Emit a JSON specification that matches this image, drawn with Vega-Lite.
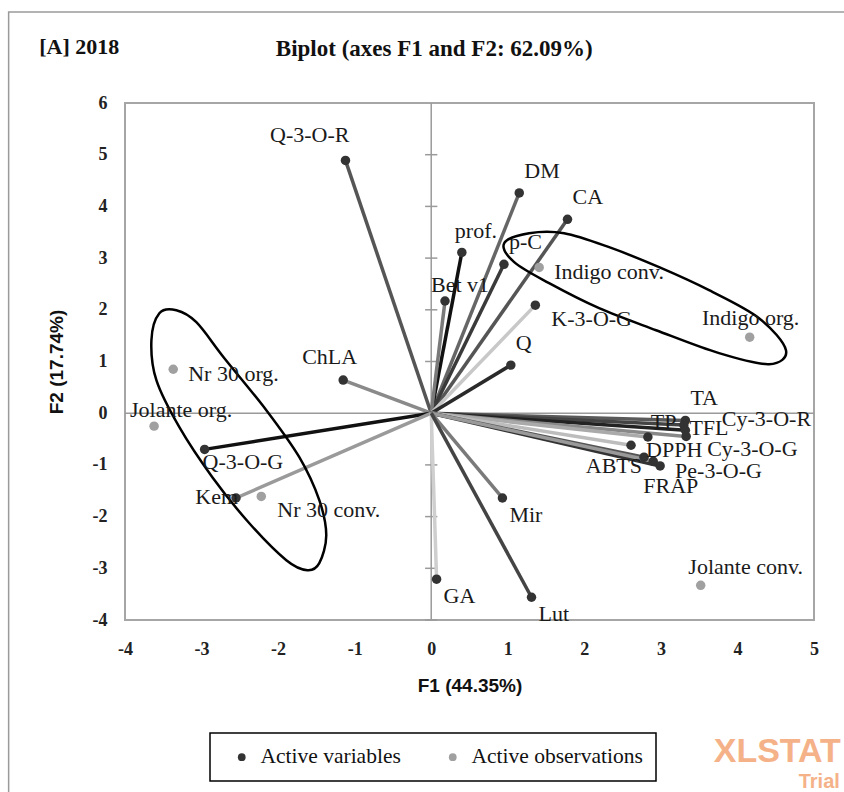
{
  "$schema": "https://vega.github.io/schema/vega-lite/v6.json",
  "width": 689,
  "height": 517,
  "autosize": {"type": "none"},
  "padding": {"left": 125, "top": 103, "right": 30, "bottom": 172},
  "background": "white",
  "config": {
    "view": {"stroke": "#a6a6a6", "strokeWidth": 2},
    "text": {"font": "Liberation Serif", "fontSize": 22, "baseline": "middle", "color": "#1a1a1a"},
    "axis": {
      "grid": false,
      "ticks": false,
      "domain": false,
      "labelFlush": false,
      "labelOverlap": false,
      "labelExpr": "'' + datum.value",
      "labelFont": "Liberation Serif",
      "labelFontWeight": "bold",
      "labelFontSize": 18,
      "labelColor": "#222222",
      "titleFont": "Liberation Sans",
      "titleFontWeight": "bold",
      "titleFontSize": 19,
      "titleColor": "#111111"
    },
    "legend": {
      "orient": "none",
      "legendX": 85,
      "legendY": 630,
      "direction": "horizontal",
      "title": null,
      "labelFont": "Liberation Serif",
      "labelFontSize": 21.5,
      "labelColor": "#111111",
      "labelLimit": 400,
      "symbolType": "circle",
      "symbolSize": 60,
      "symbolStrokeWidth": 0,
      "symbolOffset": 8,
      "labelOffset": 8,
      "columnPadding": 33,
      "padding": 13,
      "strokeColor": "#000000",
      "strokeWidth": 1.5
    }
  },
  "data": {
    "values": [
      {"name": "Q-3-O-R", "type": "Active variables", "x": -1.12, "y": 4.89},
      {"name": "DM", "type": "Active variables", "x": 1.15, "y": 4.26},
      {"name": "CA", "type": "Active variables", "x": 1.78, "y": 3.75},
      {"name": "prof.", "type": "Active variables", "x": 0.40, "y": 3.11},
      {"name": "p-C", "type": "Active variables", "x": 0.95, "y": 2.88},
      {"name": "Bet v1", "type": "Active variables", "x": 0.18, "y": 2.17},
      {"name": "K-3-O-G", "type": "Active variables", "x": 1.36, "y": 2.09},
      {"name": "Q", "type": "Active variables", "x": 1.04, "y": 0.93},
      {"name": "ChLA", "type": "Active variables", "x": -1.15, "y": 0.64},
      {"name": "Q-3-O-G", "type": "Active variables", "x": -2.96, "y": -0.70},
      {"name": "Kem", "type": "Active variables", "x": -2.55, "y": -1.64},
      {"name": "TA", "type": "Active variables", "x": 3.32, "y": -0.14},
      {"name": "Cy-3-O-R", "type": "Active variables", "x": 3.30, "y": -0.23},
      {"name": "TFL", "type": "Active variables", "x": 3.32, "y": -0.33},
      {"name": "Cy-3-O-G", "type": "Active variables", "x": 3.33, "y": -0.45},
      {"name": "TP", "type": "Active variables", "x": 2.83, "y": -0.46},
      {"name": "DPPH", "type": "Active variables", "x": 2.61, "y": -0.62},
      {"name": "ABTS", "type": "Active variables", "x": 2.78, "y": -0.85},
      {"name": "Pe-3-O-G", "type": "Active variables", "x": 2.99, "y": -1.02},
      {"name": "FRAP", "type": "Active variables", "x": 2.90, "y": -0.93},
      {"name": "Mir", "type": "Active variables", "x": 0.93, "y": -1.64},
      {"name": "GA", "type": "Active variables", "x": 0.07, "y": -3.21},
      {"name": "Lut", "type": "Active variables", "x": 1.31, "y": -3.56},
      {"name": "Indigo conv.", "type": "Active observations", "x": 1.41, "y": 2.82},
      {"name": "Indigo org.", "type": "Active observations", "x": 4.16, "y": 1.47},
      {"name": "Nr 30 org.", "type": "Active observations", "x": -3.37, "y": 0.85},
      {"name": "Jolante org.", "type": "Active observations", "x": -3.62, "y": -0.25},
      {"name": "Nr 30 conv.", "type": "Active observations", "x": -2.22, "y": -1.61},
      {"name": "Jolante conv.", "type": "Active observations", "x": 3.52, "y": -3.33}
    ]
  },
  "layer": [
    {
      "mark": {"type": "circle", "size": 1, "opacity": 0},
      "encoding": {
        "x": {"field": "x", "type": "quantitative", "scale": {"domain": [-4, 5], "nice": false, "zero": false}, "axis": {"values": [-4, -3, -2, -1, 0, 1, 2, 3, 4, 5], "title": "F1 (44.35%)", "labelPadding": 20, "titlePadding": 18}},
        "y": {"field": "y", "type": "quantitative", "scale": {"domain": [-4, 6], "nice": false, "zero": false}, "axis": {"values": [-4, -3, -2, -1, 0, 1, 2, 3, 4, 5, 6], "title": "F2 (17.74%)", "labelPadding": 18, "titlePadding": 26}}
      }
    },
    {
      "data": {"values": [{}]},
      "mark": {"type": "rect", "fill": null, "fillOpacity": 0, "stroke": "#9a9a9a", "strokeWidth": 1.5},
      "encoding": {
        "x": {"datum": -5.52, "type": "quantitative"},
        "y": {"datum": 7.76, "type": "quantitative"},
        "x2": {"datum": 5.8},
        "y2": {"datum": -7.8}
      }
    },
    {
      "data": {"values": [{}]},
      "mark": {"type": "rule", "color": "#9a9a9a", "strokeWidth": 1.5},
      "encoding": {
        "x": {"datum": -4, "type": "quantitative"},
        "x2": {"datum": 5},
        "y": {"datum": 0, "type": "quantitative"}
      }
    },
    {
      "data": {"values": [{}]},
      "mark": {"type": "rule", "color": "#9a9a9a", "strokeWidth": 1.5},
      "encoding": {
        "y": {"datum": -4, "type": "quantitative"},
        "y2": {"datum": 6},
        "x": {"datum": 0, "type": "quantitative"}
      }
    },
    {
      "data": {"values": [{"v": -4}, {"v": -3}, {"v": -2}, {"v": -1}, {"v": 1}, {"v": 2}, {"v": 3}, {"v": 4}, {"v": 5}]},
      "mark": {"type": "rule", "color": "#9a9a9a", "strokeWidth": 1.5},
      "encoding": {
        "y": {"field": "v", "type": "quantitative"},
        "x": {"datum": -0.08, "type": "quantitative"},
        "x2": {"datum": 0.08}
      }
    },
    {
      "transform": [{"filter": "datum.type === 'Active variables'"}],
      "mark": {"type": "rule", "strokeWidth": 3.5},
      "encoding": {
        "x": {"field": "x", "type": "quantitative"},
        "y": {"field": "y", "type": "quantitative"},
        "x2": {"datum": 0},
        "y2": {"datum": 0},
        "stroke": {
          "field": "name",
          "type": "nominal",
          "legend": null,
          "scale": {
            "domain": ["Q-3-O-R", "DM", "CA", "prof.", "p-C", "Bet v1", "K-3-O-G", "Q", "ChLA", "Q-3-O-G", "Kem", "TA", "Cy-3-O-R", "TFL", "Cy-3-O-G", "TP", "DPPH", "ABTS", "Pe-3-O-G", "FRAP", "Mir", "GA", "Lut"],
            "range": ["#555555", "#666666", "#555555", "#111111", "#3a3a3a", "#7a7a7a", "#c8c8c8", "#2a2a2a", "#8a8a8a", "#111111", "#9a9a9a", "#5a5a5a", "#444444", "#222222", "#888888", "#aaaaaa", "#bdbdbd", "#555555", "#333333", "#999999", "#7a7a7a", "#cfcfcf", "#444444"]
          }
        }
      }
    },
    {
      "data": {
        "values": [
          {"e": "right", "i": 1, "x": 0.953, "y": 3.288},
          {"e": "right", "i": 2, "x": 1.279, "y": 3.482},
          {"e": "right", "i": 3, "x": 1.736, "y": 3.482},
          {"e": "right", "i": 4, "x": 2.324, "y": 3.211},
          {"e": "right", "i": 5, "x": 2.977, "y": 2.824},
          {"e": "right", "i": 6, "x": 3.629, "y": 2.379},
          {"e": "right", "i": 7, "x": 4.282, "y": 1.838},
          {"e": "right", "i": 8, "x": 4.634, "y": 1.219},
          {"e": "right", "i": 9, "x": 4.413, "y": 0.948},
          {"e": "right", "i": 10, "x": 3.760, "y": 1.161},
          {"e": "right", "i": 11, "x": 2.937, "y": 1.605},
          {"e": "right", "i": 12, "x": 2.193, "y": 2.031},
          {"e": "right", "i": 13, "x": 1.540, "y": 2.515},
          {"e": "right", "i": 14, "x": 1.084, "y": 2.921},
          {"e": "left", "i": 1, "x": -3.551, "y": 1.934},
          {"e": "left", "i": 2, "x": -3.329, "y": 1.992},
          {"e": "left", "i": 3, "x": -3.068, "y": 1.760},
          {"e": "left", "i": 4, "x": -2.702, "y": 1.064},
          {"e": "left", "i": 5, "x": -2.154, "y": 0.058},
          {"e": "left", "i": 6, "x": -1.723, "y": -0.851},
          {"e": "left", "i": 7, "x": -1.462, "y": -1.683},
          {"e": "left", "i": 8, "x": -1.371, "y": -2.360},
          {"e": "left", "i": 9, "x": -1.462, "y": -2.901},
          {"e": "left", "i": 10, "x": -1.619, "y": -3.037},
          {"e": "left", "i": 11, "x": -1.893, "y": -2.843},
          {"e": "left", "i": 12, "x": -2.376, "y": -2.128},
          {"e": "left", "i": 13, "x": -2.859, "y": -1.238},
          {"e": "left", "i": 14, "x": -3.290, "y": -0.271},
          {"e": "left", "i": 15, "x": -3.590, "y": 0.638},
          {"e": "left", "i": 16, "x": -3.655, "y": 1.412}
        ]
      },
      "mark": {"type": "line", "interpolate": "cardinal-closed", "color": "#000000", "strokeWidth": 2.5},
      "encoding": {
        "x": {"field": "x", "type": "quantitative"},
        "y": {"field": "y", "type": "quantitative"},
        "detail": {"field": "e", "type": "nominal"},
        "order": {"field": "i", "type": "quantitative"}
      }
    },
    {
      "mark": {"type": "circle", "size": 90, "opacity": 1},
      "encoding": {
        "x": {"field": "x", "type": "quantitative"},
        "y": {"field": "y", "type": "quantitative"},
        "fill": {
          "field": "type",
          "type": "nominal",
          "scale": {"domain": ["Active variables", "Active observations"], "range": ["#333333", "#a0a0a0"]}
        }
      }
    },
    {
      "transform": [{"filter": {"field": "name", "oneOf": ["DM", "CA", "p-C", "Q", "TA"]}}],
      "mark": {"type": "text", "align": "left", "dx": 5, "dy": -22},
      "encoding": {"x": {"field": "x", "type": "quantitative"}, "y": {"field": "y", "type": "quantitative"}, "text": {"field": "name"}}
    },
    {
      "transform": [{"filter": {"field": "name", "oneOf": ["prof."]}}],
      "mark": {"type": "text", "align": "left", "dx": -7, "dy": -21},
      "encoding": {"x": {"field": "x", "type": "quantitative"}, "y": {"field": "y", "type": "quantitative"}, "text": {"field": "name"}}
    },
    {
      "transform": [{"filter": {"field": "name", "oneOf": ["Bet v1"]}}],
      "mark": {"type": "text", "align": "left", "dx": -14, "dy": -16},
      "encoding": {"x": {"field": "x", "type": "quantitative"}, "y": {"field": "y", "type": "quantitative"}, "text": {"field": "name"}}
    },
    {
      "transform": [{"filter": {"field": "name", "oneOf": ["Mir", "GA", "Lut"]}}],
      "mark": {"type": "text", "align": "left", "dx": 7, "dy": 17},
      "encoding": {"x": {"field": "x", "type": "quantitative"}, "y": {"field": "y", "type": "quantitative"}, "text": {"field": "name"}}
    },
    {
      "transform": [{"filter": {"field": "name", "oneOf": ["DPPH", "Pe-3-O-G", "Indigo conv.", "Nr 30 org."]}}],
      "mark": {"type": "text", "align": "left", "dx": 15, "dy": 5},
      "encoding": {"x": {"field": "x", "type": "quantitative"}, "y": {"field": "y", "type": "quantitative"}, "text": {"field": "name"}}
    },
    {
      "transform": [{"filter": {"field": "name", "oneOf": ["Nr 30 conv.", "K-3-O-G"]}}],
      "mark": {"type": "text", "align": "left", "dx": 16, "dy": 14},
      "encoding": {"x": {"field": "x", "type": "quantitative"}, "y": {"field": "y", "type": "quantitative"}, "text": {"field": "name"}}
    },
    {
      "transform": [{"filter": {"field": "name", "oneOf": ["Cy-3-O-G"]}}],
      "mark": {"type": "text", "align": "left", "dx": 21, "dy": 13},
      "encoding": {"x": {"field": "x", "type": "quantitative"}, "y": {"field": "y", "type": "quantitative"}, "text": {"field": "name"}}
    },
    {
      "transform": [{"filter": {"field": "name", "oneOf": ["Q-3-O-R"]}}],
      "mark": {"type": "text", "align": "right", "dx": 4, "dy": -25},
      "encoding": {"x": {"field": "x", "type": "quantitative"}, "y": {"field": "y", "type": "quantitative"}, "text": {"field": "name"}}
    },
    {
      "transform": [{"filter": {"field": "name", "oneOf": ["ChLA"]}}],
      "mark": {"type": "text", "align": "right", "dx": 14, "dy": -23},
      "encoding": {"x": {"field": "x", "type": "quantitative"}, "y": {"field": "y", "type": "quantitative"}, "text": {"field": "name"}}
    },
    {
      "transform": [{"filter": {"field": "name", "oneOf": ["Kem"]}}],
      "mark": {"type": "text", "align": "right", "dx": 2, "dy": -1},
      "encoding": {"x": {"field": "x", "type": "quantitative"}, "y": {"field": "y", "type": "quantitative"}, "text": {"field": "name"}}
    },
    {
      "transform": [{"filter": {"field": "name", "oneOf": ["ABTS"]}}],
      "mark": {"type": "text", "align": "right", "dx": -2, "dy": 9},
      "encoding": {"x": {"field": "x", "type": "quantitative"}, "y": {"field": "y", "type": "quantitative"}, "text": {"field": "name"}}
    },
    {
      "transform": [{"filter": {"field": "name", "oneOf": ["Q-3-O-G"]}}],
      "mark": {"type": "text", "align": "left", "dx": -2, "dy": 13},
      "encoding": {"x": {"field": "x", "type": "quantitative"}, "y": {"field": "y", "type": "quantitative"}, "text": {"field": "name"}}
    },
    {
      "transform": [{"filter": {"field": "name", "oneOf": ["TP"]}}],
      "mark": {"type": "text", "align": "left", "dx": 3, "dy": -15},
      "encoding": {"x": {"field": "x", "type": "quantitative"}, "y": {"field": "y", "type": "quantitative"}, "text": {"field": "name"}}
    },
    {
      "transform": [{"filter": {"field": "name", "oneOf": ["TFL"]}}],
      "mark": {"type": "text", "align": "left", "dx": 4, "dy": -2},
      "encoding": {"x": {"field": "x", "type": "quantitative"}, "y": {"field": "y", "type": "quantitative"}, "text": {"field": "name"}}
    },
    {
      "transform": [{"filter": {"field": "name", "oneOf": ["Cy-3-O-R"]}}],
      "mark": {"type": "text", "align": "left", "dx": 38, "dy": -6},
      "encoding": {"x": {"field": "x", "type": "quantitative"}, "y": {"field": "y", "type": "quantitative"}, "text": {"field": "name"}}
    },
    {
      "transform": [{"filter": {"field": "name", "oneOf": ["FRAP"]}}],
      "mark": {"type": "text", "align": "left", "dx": -10, "dy": 25},
      "encoding": {"x": {"field": "x", "type": "quantitative"}, "y": {"field": "y", "type": "quantitative"}, "text": {"field": "name"}}
    },
    {
      "transform": [{"filter": {"field": "name", "oneOf": ["Indigo org."]}}],
      "mark": {"type": "text", "align": "center", "dx": 1, "dy": -19},
      "encoding": {"x": {"field": "x", "type": "quantitative"}, "y": {"field": "y", "type": "quantitative"}, "text": {"field": "name"}}
    },
    {
      "transform": [{"filter": {"field": "name", "oneOf": ["Jolante org."]}}],
      "mark": {"type": "text", "align": "center", "dx": 27, "dy": -16},
      "encoding": {"x": {"field": "x", "type": "quantitative"}, "y": {"field": "y", "type": "quantitative"}, "text": {"field": "name"}}
    },
    {
      "transform": [{"filter": {"field": "name", "oneOf": ["Jolante conv."]}}],
      "mark": {"type": "text", "align": "center", "dx": 45, "dy": -18},
      "encoding": {"x": {"field": "x", "type": "quantitative"}, "y": {"field": "y", "type": "quantitative"}, "text": {"field": "name"}}
    },
    {
      "data": {"values": [{"label": "[A] 2018"}]},
      "mark": {"type": "text", "align": "left", "font": "Liberation Serif", "fontSize": 22, "fontWeight": "bold", "color": "#111111"},
      "encoding": {
        "x": {"datum": -5.12, "type": "quantitative"},
        "y": {"datum": 7.08, "type": "quantitative"},
        "text": {"field": "label"}
      }
    },
    {
      "data": {"values": [{"label": "Biplot (axes F1 and F2: 62.09%)"}]},
      "mark": {"type": "text", "align": "center", "font": "Liberation Serif", "fontSize": 23, "fontWeight": "bold", "color": "#111111"},
      "encoding": {
        "x": {"datum": 0.04, "type": "quantitative"},
        "y": {"datum": 7.04, "type": "quantitative"},
        "text": {"field": "label"}
      }
    },
    {
      "data": {"values": [{"label": "XLSTAT", "px": 3.69, "py": -6.56}, {"label": "Trial", "px": 4.8, "py": -7.14}]},
      "transform": [{"filter": "datum.label === 'XLSTAT'"}],
      "mark": {"type": "text", "align": "left", "font": "Liberation Sans", "fontSize": 34, "fontWeight": "bold", "color": "#f4a574", "opacity": 0.85},
      "encoding": {
        "x": {"field": "px", "type": "quantitative"},
        "y": {"field": "py", "type": "quantitative"},
        "text": {"field": "label"}
      }
    },
    {
      "data": {"values": [{"label": "XLSTAT", "px": 3.69, "py": -6.56}, {"label": "Trial", "px": 4.8, "py": -7.14}]},
      "transform": [{"filter": "datum.label === 'Trial'"}],
      "mark": {"type": "text", "align": "left", "font": "Liberation Sans", "fontSize": 20, "fontWeight": "bold", "color": "#f4a574", "opacity": 0.85},
      "encoding": {
        "x": {"field": "px", "type": "quantitative"},
        "y": {"field": "py", "type": "quantitative"},
        "text": {"field": "label"}
      }
    }
  ]
}
